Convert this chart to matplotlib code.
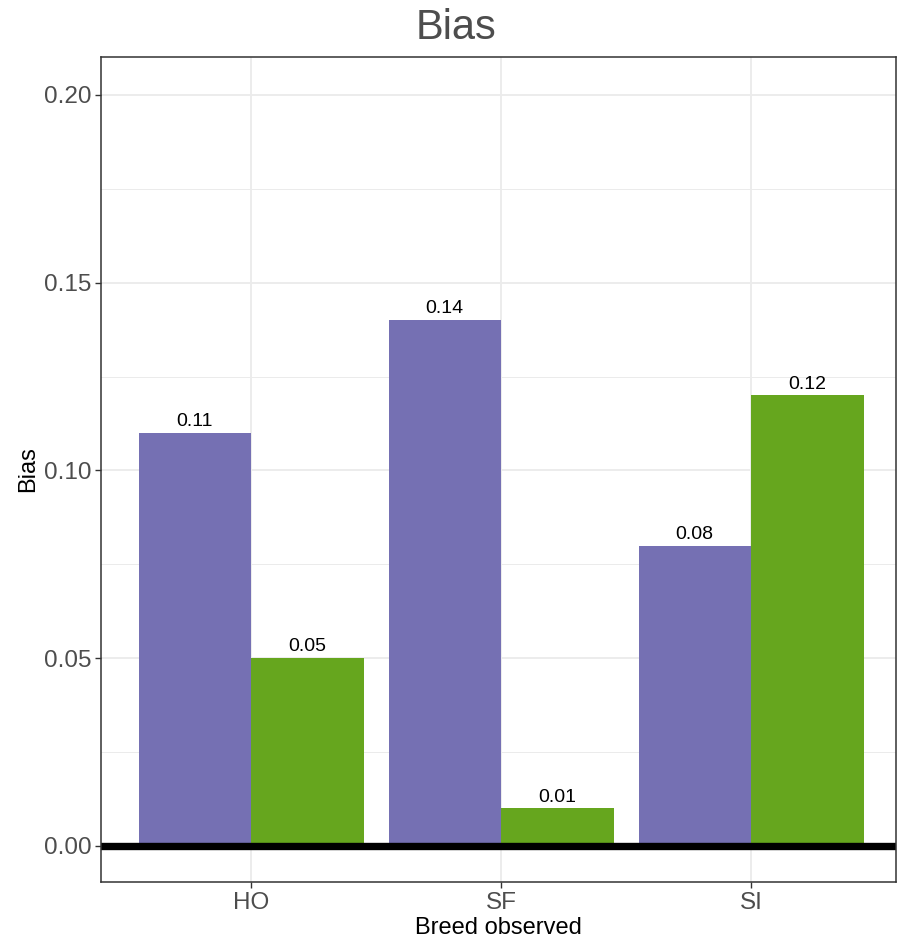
import numpy as np
import matplotlib.pyplot as plt
from matplotlib.ticker import MultipleLocator

plt.rcParams['font.family'] = ['Liberation Sans', 'DejaVu Sans']

breeds = ['HO', 'SF', 'SI']
bias_a = [0.11, 0.14, 0.08]   # purple series
bias_b = [0.05, 0.01, 0.12]   # green series

ind = np.arange(len(breeds))
width = 0.45

fig = plt.figure(figsize=(8.97, 9.42), dpi=100)
ax = fig.add_axes([101 / 897, 1 - 882 / 942, 795 / 897, 825 / 942])

ax.set_axisbelow(True)
ax.yaxis.set_major_locator(MultipleLocator(0.05))
ax.yaxis.set_minor_locator(MultipleLocator(0.025))
ax.grid(which='major', color='#EBEBEB', linewidth=1.3)
ax.grid(which='minor', axis='y', color='#EBEBEB', linewidth=0.7)

rects1 = ax.bar(ind - width / 2, bias_a, width, color='#7570B3')
rects2 = ax.bar(ind + width / 2, bias_b, width, color='#66A61E')

ax.axhline(0, color='black', linewidth=5.3)


def autolabel(rects):
    for rect in rects:
        h = rect.get_height()
        ax.annotate('%.2f' % h, (rect.get_x() + rect.get_width() / 2, h),
                    xytext=(0, 2), textcoords='offset points',
                    ha='center', va='bottom', fontsize=14, color='black')


autolabel(rects1)
autolabel(rects2)

ax.set_xlim(-0.6, 2.58)
ax.set_ylim(-0.0096, 0.2101)
ax.set_xticks(ind)
ax.set_xticklabels(breeds)
ax.set_yticks([0, 0.05, 0.10, 0.15, 0.20])
ax.set_yticklabels(['0.00', '0.05', '0.10', '0.15', '0.20'])

ax.tick_params(which='major', length=4, width=1, color='#333333',
               labelcolor='#4D4D4D', labelsize=17.5, pad=3)
ax.tick_params(which='minor', length=0)
for s in ax.spines.values():
    s.set_color('#333333')
    s.set_linewidth(1.1)

ax.set_xlabel('Breed observed', fontsize=17, labelpad=2)
ax.set_ylabel('Bias', fontsize=17, labelpad=3)
fig.text(456 / 897, 1 - 39 / 942, 'Bias', fontsize=30, color='#4D4D4D',
         ha='center', va='baseline')

fig.savefig('out.png', dpi=100)
